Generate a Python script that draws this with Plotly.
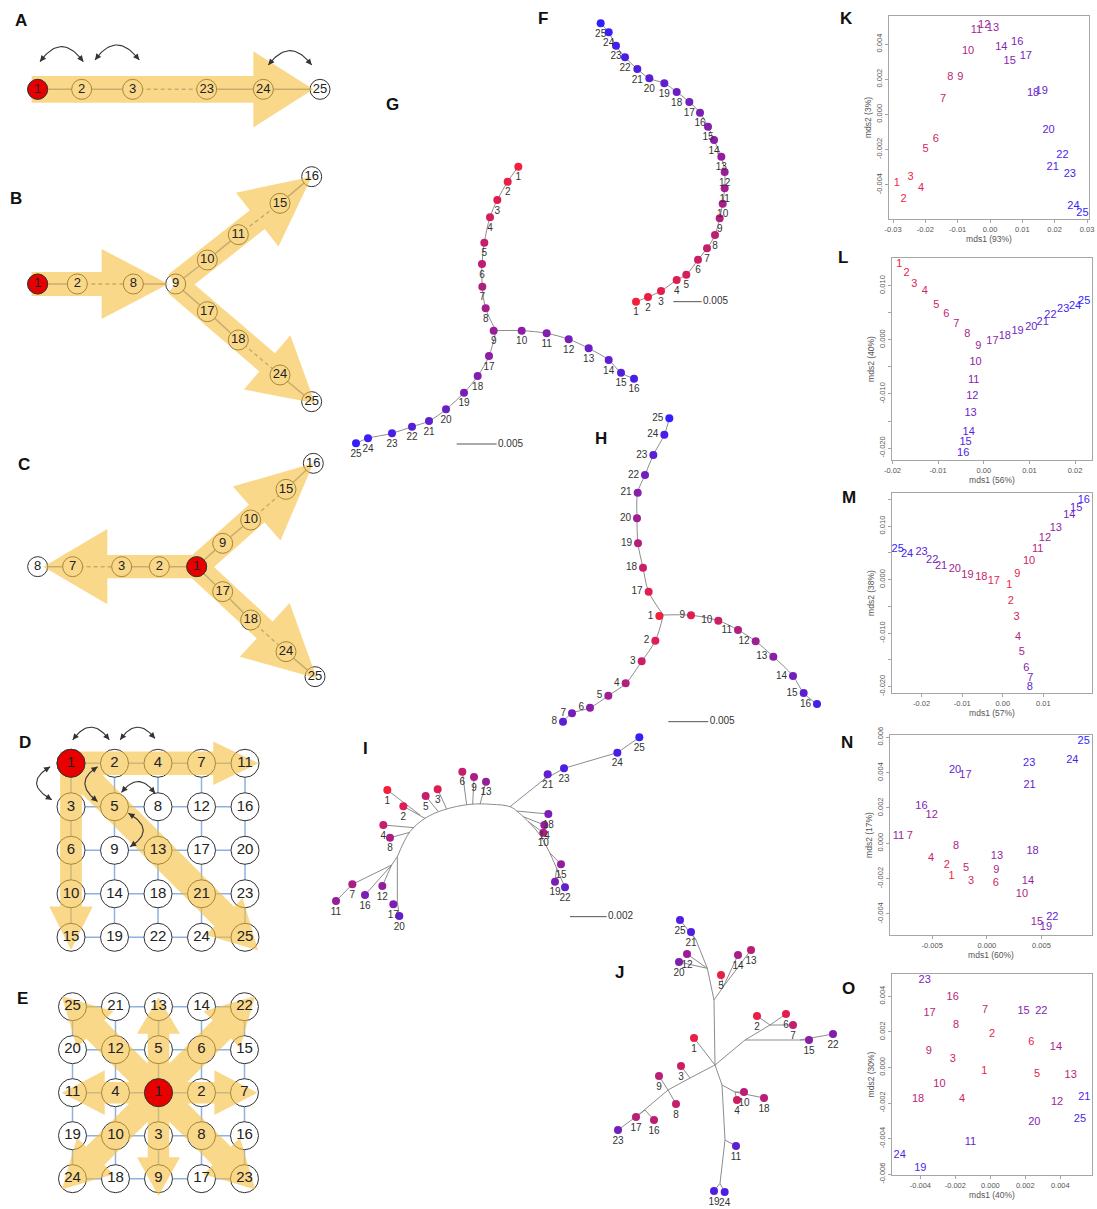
import math
import plotly.graph_objects as go

W, H = 1097, 1209
FONT = "Liberation Sans, Arial, sans-serif"
ARROW_FILL = "rgba(247,190,60,0.6)"
EDGE_COLOR = "#7d95bb"
GRID_COLOR = "#8eb0e2"
TREE_LINE = "#8c8c8c"
BOX = "#a6a6a6"
SEED_RED = "#e80000"

node_ids = [str(i) for i in range(1, 26)]

# graph distance of nodes 1..25 from seed node 1 in each topology
dist_line = [0, 1, 2, 3, 4, 5, 6, 7, 8, 9, 10, 11, 12, 13, 14, 15, 16, 17, 18, 19, 20, 21, 22, 23, 24]
dist_branch = [0, 1, 2, 3, 4, 5, 6, 7, 8, 9, 10, 11, 12, 13, 14, 15, 9, 10, 11, 12, 13, 14, 15, 16, 17]
dist_center = [0, 1, 2, 3, 4, 5, 6, 7, 1, 2, 3, 4, 5, 6, 7, 8, 1, 2, 3, 4, 5, 6, 7, 8, 9]
dist_corner = [0, 1, 1, 2, 2, 2, 3, 3, 3, 3, 4, 4, 4, 4, 4, 5, 5, 5, 5, 6, 6, 6, 7, 7, 8]
# mean arrival shade (0 = early, 1 = late) for the centre-seeded lattice
shade_lattice = [0.05, 0.05, 0.2, 0.2, 0.05, 0.1, 0.25, 0.25, 0.3, 0.3, 0.75, 0.45, 0.3, 0.4, 0.55,
                 0.3, 0.3, 0.3, 0.85, 0.6, 0.85, 0.6, 0.65, 0.85, 0.85]

# ---------------- A-C: chain / branching schematics (layout units) ----------------
A_labels = ["1", "2", "3", "23", "24", "25"]
A_x = [113, 245, 398, 620, 790, 960]
A_y = [268, 268, 268, 268, 268, 268]
A_edges = [("1", "2", "solid"), ("2", "3", "solid"), ("3", "23", "dash"), ("23", "24", "solid"), ("24", "25", "solid")]
A_arrows = [((95, 268), (940, 268), 40, 114, 180)]
A_arcs = [((120, 185), (185, 140), (250, 185)), ((285, 180), (350, 135), (418, 180)),
          ((805, 195), (870, 152), (935, 195))]

B_labels = ["1", "2", "8", "9", "10", "11", "15", "16", "17", "18", "24", "25"]
B_x = [113, 232, 400, 527, 622, 715, 840, 935, 622, 715, 840, 935]
B_y = [852, 852, 852, 852, 780, 704, 610, 530, 935, 1020, 1125, 1205]
B_edges = [("1", "2", "solid"), ("2", "8", "dash"), ("8", "9", "solid"), ("9", "10", "solid"),
           ("10", "11", "solid"), ("11", "15", "dash"), ("15", "16", "solid"), ("9", "17", "solid"),
           ("17", "18", "solid"), ("18", "24", "dash"), ("24", "25", "solid")]
B_arrows = [((95, 852), (505, 852), 36, 105, 200),
            ((527, 852), (935, 530), 36, 103, 208),
            ((527, 852), (945, 1210), 36, 107, 189)]

C_labels = ["8", "7", "3", "2", "1", "9", "10", "15", "16", "17", "18", "24", "25"]
C_x = [113, 218, 365, 478, 590, 668, 752, 858, 940, 668, 752, 858, 945]
C_y = [440, 440, 440, 440, 440, 370, 300, 208, 130, 515, 600, 695, 770]
C_edges = [("8", "7", "solid"), ("7", "3", "dash"), ("3", "2", "solid"), ("2", "1", "solid"),
           ("1", "9", "solid"), ("9", "10", "solid"), ("10", "15", "dash"), ("15", "16", "solid"),
           ("1", "17", "solid"), ("17", "18", "solid"), ("18", "24", "dash"), ("24", "25", "solid")]
C_arrows = [((640, 440), (130, 440), 35, 113, 192),
            ((590, 440), (940, 130), 35, 108, 227),
            ((590, 440), (950, 775), 35, 110, 213)]

# ---------------- D-E: 5x5 lattices (grid units) ----------------
D_grid = [[1, 2, 4, 7, 11], [3, 5, 8, 12, 16], [6, 9, 13, 17, 20], [10, 14, 18, 21, 23], [15, 19, 22, 24, 25]]
E_grid = [[25, 21, 13, 14, 22], [20, 12, 5, 6, 15], [11, 4, 1, 2, 7], [19, 10, 3, 8, 16], [24, 18, 9, 17, 23]]
D_arrows = [((-0.25, 0), (4.31, 0), 0.27, 0.5, 1.04),
            ((0, -0.25), (0, 4.29), 0.25, 0.5, 1.0),
            ((0.1, 0.1), (4.3, 4.3), 0.32, 0.6, 1.1)]
D_arcs = [((0.04, -0.54), (0.46, -0.83), (0.88, -0.54)), ((1.13, -0.54), (1.52, -0.83), (1.93, -0.57)),
          ((-0.48, 0.08), (-0.79, 0.46), (-0.44, 0.84)), ((0.61, 0.08), (0.32, 0.46), (0.61, 0.88)),
          ((1.16, 0.67), (1.55, 0.42), (1.93, 0.69)), ((1.32, 1.15), (1.66, 1.53), (1.36, 1.92))]
E_arrows = [((2, 2), (2, -0.22), 0.25, 0.5, 0.85), ((2, 2), (2, 4.4), 0.25, 0.5, 0.9),
            ((2, 2), (-0.25, 2), 0.25, 0.52, 1.0), ((2, 2), (4.3, 2), 0.25, 0.52, 1.0),
            ((2, 2), (-0.25, -0.25), 0.3, 0.6, 1.1), ((2, 2), (4.25, -0.25), 0.3, 0.6, 1.1),
            ((2, 2), (-0.25, 4.25), 0.3, 0.6, 1.1), ((2, 2), (4.25, 4.25), 0.3, 0.6, 1.1)]

# ---------------- F-J: tree layouts (layout units, nodes 1..25) ----------------
F_x = [228, 264, 303, 350, 379, 414, 441, 465, 479, 488, 494, 494, 484, 462, 444, 420, 388, 350, 313, 268, 232, 195, 168, 146, 122]
F_y = [905, 891, 873, 840, 824, 779, 745, 705, 655, 611, 565, 516, 470, 420, 380, 338, 306, 276, 250, 235, 207, 172, 137, 97, 70]
F_bar = (340, 425, 905, "0.005")

G_x = [535, 503, 472, 450, 433, 426, 427, 437, 461, 545, 620, 686, 746, 806, 843, 882, 447, 413, 372, 318, 267, 216, 156, 84, 48]
G_y = [230, 275, 330, 382, 458, 522, 590, 655, 722, 722, 730, 748, 775, 810, 848, 866, 798, 858, 908, 958, 993, 1010, 1030, 1045, 1060]
G_root = (468, 722)
G_bar = (350, 470, 1062, "0.005")

H_x = [358, 346, 305, 257, 205, 150, 96, 69, 453, 535, 594, 647, 700, 759, 791, 831, 326, 309, 294, 291, 293, 315, 340, 373, 388]
H_y = [648, 722, 784, 850, 887, 923, 940, 965, 646, 662, 690, 724, 770, 828, 879, 912, 575, 503, 430, 355, 278, 225, 165, 104, 55]
H_root = (370, 645)
H_bar = (385, 505, 965, "0.005")

I_x = [232, 280, 383, 220, 347, 457, 127, 240, 492, 700, 78, 217, 528, 703, 753, 165, 250, 715, 735, 268, 713, 765, 762, 922, 988]
I_y = [195, 244, 193, 300, 213, 140, 478, 338, 156, 323, 528, 483, 170, 300, 418, 510, 538, 267, 470, 573, 148, 487, 130, 83, 37]
I_backbone = [(262, 395), (300, 320), (345, 280), (400, 255), (480, 238), (545, 238), (600, 245),
              (625, 262), (660, 295), (690, 330), (715, 375), (740, 430)]
I_paths = [[(330, 270), 1], [(345, 280), 2], [(312, 308), 4], [(300, 322), 8], [(385, 260), 5],
           [(410, 252), 3], [(470, 240), 6], [(488, 238), 9], [(510, 238), 13], [(620, 258), 18],
           [(640, 275), 14], [(655, 290), 10], [(718, 382), 15], [(740, 430), 19], [(740, 430), 22],
           [(600, 245), (700, 165), 21], [(700, 165), 23, 24, 25],
           [(262, 395), (245, 420), 7, 11], [(245, 420), 16], [(245, 420), 12],
           [(262, 395), (262, 530), 17], [(262, 530), 20]]
I_bar = (780, 890, 575, "0.002")

J_x = [312, 501, 273, 441, 393, 588, 609, 258, 207, 462, 438, 291, 483, 444, 657, 192, 138, 522, 372, 267, 303, 729, 84, 404, 270]
J_y = [399, 333, 483, 585, 210, 327, 360, 597, 513, 561, 723, 147, 135, 150, 405, 645, 636, 579, 858, 171, 81, 387, 675, 861, 45]
J_paths = [[(375, 480), (372, 285), (352, 190), (318, 105), 25], [(318, 105), 21], [(352, 190), 12],
           [(352, 190), 20], [(372, 285), (400, 245), 14], [(400, 245), 13], [(400, 245), 5],
           [(375, 480), (465, 405), (540, 360), 2], [(540, 360), 6], [(540, 360), 7],
           [(465, 405), (630, 405), 15], [(630, 405), 22], [(375, 480), 1],
           [(375, 480), (300, 519), 3], [(300, 519), (234, 555), 9], [(234, 555), 8],
           [(234, 555), (165, 615), 17], [(165, 615), 16], [(165, 615), 23],
           [(375, 480), (396, 540), (435, 561), 10], [(435, 561), 4], [(435, 561), 18],
           [(396, 540), (405, 705), 11], [(405, 705), (390, 835), 19], [(390, 835), 24]]

# ---------------- K-O: MDS coordinates of nodes 1..25 ----------------
K_x = [-0.0288, -0.0267, -0.0246, -0.0213, -0.0199, -0.0168, -0.0145, -0.0123, -0.0092, -0.0068, -0.0042, -0.0018, 0.0009,
       0.0035, 0.0061, 0.0084, 0.0111, 0.0133, 0.0160, 0.0181, 0.0194, 0.0224, 0.0247, 0.0258, 0.0286]
K_y = [-0.0039, -0.0048, -0.0036, -0.0042, -0.0020, -0.0014, 0.00084, 0.0021, 0.0021, 0.0036, 0.0048, 0.0051, 0.0049,
       0.0038, 0.0030, 0.0041, 0.0033, 0.0012, 0.0013, -0.0009, -0.0030, -0.0023, -0.0034, -0.0052, -0.0056]
L_x = [-0.0185, -0.0169, -0.0152, -0.0129, -0.0104, -0.0082, -0.0060, -0.0036, -0.0012, -0.0018, -0.0022, -0.0025, -0.0029,
       -0.0033, -0.0040, -0.0045, 0.0019, 0.0046, 0.0074, 0.0104, 0.0129, 0.0146, 0.0174, 0.0200, 0.0220]
L_y = [0.0139, 0.0122, 0.0102, 0.0089, 0.0064, 0.0047, 0.0028, 0.0010, -0.0012, -0.0042, -0.0074, -0.0105, -0.0136,
       -0.0170, -0.0190, -0.0210, -0.0002, 0.0007, 0.0016, 0.0023, 0.0033, 0.0046, 0.0056, 0.0062, 0.0071]
M_x = [0.0016, 0.0020, 0.0034, 0.0038, 0.0047, 0.0058, 0.0068, 0.0067, 0.0036, 0.0065, 0.0086, 0.0104, 0.0131,
       0.0164, 0.0181, 0.0200, -0.0022, -0.0053, -0.0087, -0.0118, -0.0152, -0.0174, -0.0200, -0.0236, -0.0259]
M_y = [-0.0011, -0.0040, -0.0071, -0.0107, -0.0135, -0.0165, -0.0184, -0.0201, 0.0011, 0.0034, 0.0056, 0.0077, 0.0096,
       0.0120, 0.0134, 0.0149, -0.0003, 0.0004, 0.0009, 0.0020, 0.0025, 0.0037, 0.0052, 0.0047, 0.0057]
N_x = [-0.00324, -0.00367, -0.00144, -0.00511, -0.00190, 0.00083, -0.00706, -0.00281, 0.00086, 0.00321, -0.00810, -0.00505,
       0.00092, 0.00376, 0.00459, -0.00599, -0.00196, 0.00419, 0.00541, -0.00291, 0.00391, 0.00599, 0.00388, 0.00783, 0.00887]
N_y = [-0.00189, -0.00123, -0.00213, -0.00085, -0.00142, -0.00225, 0.00042, -0.00015, -0.00155, -0.00289, 0.00042, 0.00157,
       -0.00072, -0.00217, -0.00447, 0.00208, 0.00383, -0.00047, -0.00477, 0.00411, 0.00328, -0.00419, 0.00453, 0.00470, 0.00579]
O_x = [-0.00034, 0.00010, -0.00215, -0.00162, 0.00267, 0.00234, -0.00030, -0.00196, -0.00352, -0.00291, -0.00114, 0.00381,
       0.00459, 0.00375, 0.00190, -0.00215, -0.00347, -0.00413, -0.00400, 0.00251, 0.00537, 0.00291, -0.00375, -0.00518, 0.00512]
O_y = [-0.00023, 0.00184, 0.00047, -0.00178, -0.00038, 0.00141, 0.00321, 0.00236, 0.00090, -0.00092, -0.00420, -0.00197,
       -0.00041, 0.00114, 0.00315, 0.00394, 0.00302, -0.00178, -0.00567, -0.00310, -0.00167, 0.00315, 0.00490, -0.00492, -0.00291]

K_xticks = [-0.03, -0.02, -0.01, 0.0, 0.01, 0.02, 0.03]
K_xlabels = ["-0.03", "-0.02", "-0.01", "0.00", "0.01", "0.02", "0.03"]
K_yticks = [-0.004, -0.002, 0.0, 0.002, 0.004]
K_ylabels = ["-0.004", "-0.002", "0.000", "0.002", "0.004"]
L_xticks = [-0.02, -0.01, 0.0, 0.01, 0.02]
L_xlabels = ["-0.02", "-0.01", "0.00", "0.01", "0.02"]
L_yticks = [-0.02, -0.015, -0.01, -0.005, 0.0, 0.005, 0.01]
L_ylabels = ["-0.020", "", "-0.010", "", "0.000", "", "0.010"]
M_xticks = [-0.02, -0.01, 0.0, 0.01]
M_xlabels = ["-0.02", "-0.01", "0.00", "0.01"]
M_yticks = [-0.02, -0.015, -0.01, -0.005, 0.0, 0.005, 0.01, 0.015]
M_ylabels = ["-0.020", "", "-0.010", "", "0.000", "", "0.010", ""]
N_xticks = [-0.005, 0.0, 0.005]
N_xlabels = ["-0.005", "0.000", "0.005"]
N_yticks = [-0.004, -0.002, 0.0, 0.002, 0.004, 0.006]
N_ylabels = ["-0.004", "-0.002", "0.000", "0.002", "0.004", "0.006"]
O_xticks = [-0.004, -0.002, 0.0, 0.002, 0.004]
O_xlabels = ["-0.004", "-0.002", "0.000", "0.002", "0.004"]
O_yticks = [-0.006, -0.004, -0.002, 0.0, 0.002, 0.004]
O_ylabels = ["-0.006", "-0.004", "-0.002", "0.000", "0.002", "0.004"]

panel_letters = ["A", "B", "C", "D", "E", "F", "G", "H", "I", "J", "K", "L", "M", "N", "O"]
panel_letter_px = [(21, 20), (16, 198), (24, 465), (25, 742), (22, 998), (543, 18), (392, 104), (601, 438),
                   (365, 748), (619, 972), (846, 18), (843, 257), (849, 497), (847, 742), (848, 989)]


def shade(t):
    # red -> purple -> blue ramp
    return f"rgb({round(245 - 195 * t)},30,{round(60 + 195 * t)})"


def shades(values, vmax):
    return [shade(v / vmax) for v in values]


fig = go.Figure()
_axis_count = [0]


def add_axes(box, xr, yr, xstyle=None, ystyle=None):
    left, top, right, bottom = box
    _axis_count[0] += 1
    n = _axis_count[0]
    sfx = "" if n == 1 else str(n)
    xid, yid = "x" + sfx, "y" + sfx
    hidden = dict(visible=False, showgrid=False, zeroline=False, fixedrange=True)
    xa = dict(domain=[left / W, right / W], range=list(xr), anchor=yid, automargin=False)
    ya = dict(domain=[1 - bottom / H, 1 - top / H], range=list(yr), anchor=xid, automargin=False)
    xa.update(xstyle if xstyle else hidden)
    ya.update(ystyle if ystyle else hidden)
    fig.update_layout(**{"xaxis" + sfx: xa, "yaxis" + sfx: ya})
    return xid, yid


def sc(ax, **kw):
    fig.add_trace(go.Scatter(xaxis=ax[0], yaxis=ax[1], hoverinfo="skip", showlegend=False, **kw))


def arrow_outline(tail, tip, shaft_hw, head_hw, head_len):
    (x0, y0), (x1, y1) = tail, tip
    length = math.hypot(x1 - x0, y1 - y0)
    ux, uy = (x1 - x0) / length, (y1 - y0) / length
    px, py = -uy, ux
    bx, by = x1 - ux * head_len, y1 - uy * head_len
    return [(x0 + px * shaft_hw, y0 + py * shaft_hw), (bx + px * shaft_hw, by + py * shaft_hw),
            (bx + px * head_hw, by + py * head_hw), (x1, y1),
            (bx - px * head_hw, by - py * head_hw), (bx - px * shaft_hw, by - py * shaft_hw),
            (x0 - px * shaft_hw, y0 - py * shaft_hw), (x0 + px * shaft_hw, y0 + py * shaft_hw)]


def add_arrows(ax, specs):
    xs, ys = [], []
    for spec in specs:
        for x, y in arrow_outline(*spec):
            xs.append(x)
            ys.append(y)
        xs.append(None)
        ys.append(None)
    sc(ax, x=xs, y=ys, mode="lines", fill="toself", fillcolor=ARROW_FILL, line=dict(width=0, color=ARROW_FILL))


def curved_double_arrow(ax, s, p, e, color="#333333"):
    cx, cy = 2 * p[0] - (s[0] + e[0]) / 2, 2 * p[1] - (s[1] + e[1]) / 2
    ts = [i / 30 for i in range(31)]
    bx = [(1 - t) ** 2 * s[0] + 2 * (1 - t) * t * cx + t ** 2 * e[0] for t in ts]
    by = [(1 - t) ** 2 * s[1] + 2 * (1 - t) * t * cy + t ** 2 * e[1] for t in ts]
    sc(ax, x=bx, y=by, mode="lines", line=dict(color=color, width=1.1))
    for tip, back in (((bx[-1], by[-1]), (bx[-4], by[-4])), ((bx[0], by[0]), (bx[3], by[3]))):
        fig.add_annotation(x=tip[0], y=tip[1], ax=back[0], ay=back[1], xref=ax[0], yref=ax[1],
                           axref=ax[0], ayref=ax[1], showarrow=True, arrowhead=2, arrowsize=1.1,
                           arrowwidth=1.1, arrowcolor=color, text="")


def draw_schematic(ax, labels, xs, ys, edges, arrows, node_size, font_size, arcs=(), edge_color=EDGE_COLOR,
                   edge_width=1.5):
    pos = dict(zip(labels, zip(xs, ys)))
    for style, dash in (("solid", "solid"), ("dash", "4px,3px")):
        ex, ey = [], []
        for a, b, s in edges:
            if s == style:
                ex += [pos[a][0], pos[b][0], None]
                ey += [pos[a][1], pos[b][1], None]
        if ex:
            sc(ax, x=ex, y=ey, mode="lines", line=dict(color=edge_color, width=edge_width, dash=dash))
    sc(ax, x=xs, y=ys, mode="markers", marker=dict(size=node_size, color="white", line=dict(color="#333", width=1)))
    add_arrows(ax, arrows)
    seed = labels.index("1")
    sc(ax, x=[xs[seed]], y=[ys[seed]], mode="markers",
       marker=dict(size=node_size, color=SEED_RED, line=dict(color="#333", width=1)))
    sc(ax, x=xs, y=ys, mode="text", text=labels, textposition="middle center",
       textfont=dict(family=FONT, size=font_size, color="#222"), cliponaxis=False)
    for s, p, e in arcs:
        curved_double_arrow(ax, s, p, e)


def lattice(grid):
    labels, xs, ys, edges = [], [], [], []
    for r, row in enumerate(grid):
        for c, v in enumerate(row):
            labels.append(str(v))
            xs.append(c)
            ys.append(r)
            if c < 4:
                edges.append((str(v), str(row[c + 1]), "solid"))
            if r < 4:
                edges.append((str(v), str(grid[r + 1][c]), "solid"))
    return labels, xs, ys, edges


def draw_tree(ax, xs, ys, curved, straight, colors, text_pos, bar=None):
    def pt(r):
        return (xs[r - 1], ys[r - 1]) if isinstance(r, int) else r

    for paths, shape in ((curved, "spline"), (straight, "linear")):
        ex, ey = [], []
        for path in paths:
            for r in path:
                x, y = pt(r)
                ex.append(x)
                ey.append(y)
            ex.append(None)
            ey.append(None)
        if ex:
            sc(ax, x=ex, y=ey, mode="lines", line=dict(color=TREE_LINE, width=1, shape=shape))
    sc(ax, x=xs, y=ys, mode="markers+text", text=node_ids, textposition=text_pos,
       marker=dict(size=8, color=colors), textfont=dict(family=FONT, size=10, color="#333"), cliponaxis=False)
    if bar:
        x0, x1, y, label = bar
        sc(ax, x=[x0, x1], y=[y, y], mode="lines", line=dict(color="#555", width=1))
        sc(ax, x=[x1 + 4], y=[y], mode="text", text=[label], textposition="middle right",
           textfont=dict(family=FONT, size=10, color="#333"), cliponaxis=False)


def mds_axis(tickvals, ticktext, title, angle):
    return dict(showline=True, linecolor=BOX, linewidth=1, mirror=True, ticks="outside", ticklen=3,
                tickwidth=1, tickcolor=BOX, tickmode="array", tickvals=tickvals, ticktext=ticktext,
                tickangle=angle, tickfont=dict(family=FONT, size=7.5, color="#555"),
                title=dict(text=title, font=dict(family=FONT, size=8.5, color="#555"), standoff=2),
                showgrid=False, zeroline=False, fixedrange=True)


def draw_mds(box, xr, yr, xt, xtl, yt, ytl, xtitle, ytitle, xs, ys, colors):
    ax = add_axes(box, xr, yr, mds_axis(xt, xtl, xtitle, 0), mds_axis(yt, ytl, ytitle, -90))
    sc(ax, x=xs, y=ys, mode="text", text=node_ids, textposition="middle center",
       textfont=dict(family=FONT, size=11, color=colors), cliponaxis=False)


# ---- A & B ----
ax_ab = add_axes((0, 0, 350, 420), (0, 1050), (1260, 0))
draw_schematic(ax_ab, A_labels, A_x, A_y, A_edges, A_arrows, 20, 13, arcs=A_arcs)
draw_schematic(ax_ab, B_labels, B_x, B_y, B_edges, B_arrows, 20, 13)

# ---- C ----
ax_c = add_axes((0, 420, 350, 720), (0, 1050), (900, 0))
draw_schematic(ax_c, C_labels, C_x, C_y, C_edges, C_arrows, 20, 13)

# ---- D & E lattices ----
ax_d = add_axes((0, 725, 300, 965), (-1.632, 5.264), (4.637, -0.880))
d_lab, d_x, d_y, d_edges = lattice(D_grid)
draw_schematic(ax_d, d_lab, d_x, d_y, d_edges, D_arrows, 28, 15, arcs=D_arcs, edge_color=GRID_COLOR)

ax_e = add_axes((0, 975, 300, 1209), (-1.686, 5.291), (4.705, -0.737))
e_lab, e_x, e_y, e_edges = lattice(E_grid)
draw_schematic(ax_e, e_lab, e_x, e_y, e_edges, E_arrows, 28, 15, edge_color=GRID_COLOR)

# ---- F-J trees ----
ax_f = add_axes((560, 0, 780, 320), (0, 660), (960, 0))
draw_tree(ax_f, F_x, F_y, [list(range(1, 26))], [], shades(dist_line, 24), "bottom center", F_bar)

ax_g = add_axes((340, 90, 640, 460), (0, 900), (1110, 0))
draw_tree(ax_g, G_x, G_y,
          [[G_root, 8, 7, 6, 5, 4, 3, 2, 1], [G_root] + list(range(10, 17)), [G_root] + list(range(17, 26))],
          [[G_root, 9]], shades(dist_branch, 17), "bottom center", G_bar)

ax_h = add_axes((540, 400, 840, 730), (0, 900), (990, 0))
draw_tree(ax_h, H_x, H_y,
          [[H_root] + list(range(17, 26)), [H_root] + list(range(9, 17)), [H_root] + list(range(2, 9))],
          [[H_root, 1]], shades(dist_center, 9), "middle left", H_bar)

ax_i = add_axes((310, 725, 670, 940), (0, 1080), (645, 0))
draw_tree(ax_i, I_x, I_y, [I_backbone], I_paths, shades(dist_corner, 8), "bottom center", I_bar)

ax_j = add_axes((590, 905, 850, 1209), (0, 780), (912, 0))
draw_tree(ax_j, J_x, J_y, [], J_paths, shades(shade_lattice, 1), "bottom center")

# ---- K-O MDS maps ----
draw_mds((889, 16, 1089, 219), (-0.03124, 0.03062), (-0.00595, 0.0056), K_xticks, K_xlabels, K_yticks, K_ylabels,
         "mds1 (93%)", "mds2 (3%)", K_x, K_y, shades(dist_line, 24))
draw_mds((892, 258, 1092, 460), (-0.0201, 0.0237), (-0.0222, 0.0151), L_xticks, L_xlabels, L_yticks, L_ylabels,
         "mds1 (56%)", "mds2 (40%)", L_x, L_y, shades(dist_branch, 17))
draw_mds((892, 493, 1092, 693), (-0.0273, 0.0220), (-0.0212, 0.0162), M_xticks, M_xlabels, M_yticks, M_ylabels,
         "mds1 (57%)", "mds2 (38%)", M_x, M_y, shades(dist_center, 9))
draw_mds((890, 735, 1092, 935), (-0.00887, 0.00963), (-0.00519, 0.00613), N_xticks, N_xlabels, N_yticks, N_ylabels,
         "mds1 (60%)", "mds2 (17%)", N_x, N_y, shades(dist_corner, 8))
draw_mds((892, 974, 1092, 1175), (-0.00562, 0.00581), (-0.00604, 0.00525), O_xticks, O_xlabels, O_yticks, O_ylabels,
         "mds1 (40%)", "mds2 (30%)", O_x, O_y, shades(shade_lattice, 1))

for letter, (px, py) in zip(panel_letters, panel_letter_px):
    fig.add_annotation(x=px / W, y=1 - py / H, xref="paper", yref="paper", text=f"<b>{letter}</b>",
                       showarrow=False, xanchor="center", yanchor="middle",
                       font=dict(family=FONT, size=17, color="#111"))

fig.update_layout(template="none", width=W, height=H, margin=dict(l=0, r=0, t=0, b=0, autoexpand=False),
                  paper_bgcolor="white", plot_bgcolor="rgba(0,0,0,0)", showlegend=False,
                  font=dict(family=FONT))

fig.write_html("out.html", config={"staticPlot": True})
